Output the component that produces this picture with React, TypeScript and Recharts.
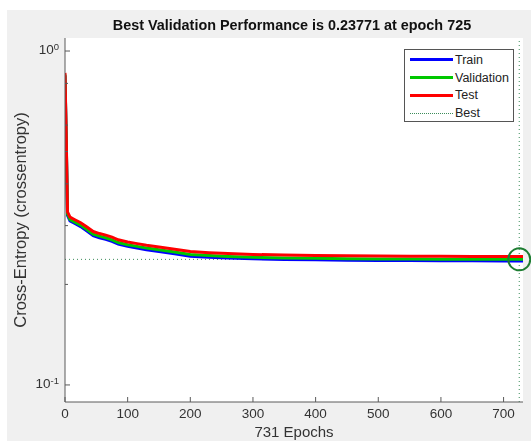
// Training performance plot (cross-entropy per epoch) in MATLAB plotperform style.
import { CartesianGrid, Legend, Line, LineChart, ReferenceDot, ReferenceLine, XAxis, YAxis } from "recharts";

const epochs = [0, 2, 4, 8, 15, 25, 35, 45, 55, 65, 75, 85, 100, 115, 130, 150, 175, 200, 230, 260, 300, 350, 400, 450, 500, 550, 600, 650, 700, 725, 731];
const trainPerf = [0.845, 0.535, 0.322, 0.31, 0.305, 0.298, 0.289, 0.28, 0.276, 0.273, 0.269, 0.264, 0.26, 0.257, 0.254, 0.251, 0.247, 0.243, 0.2412, 0.2398, 0.2386, 0.2376, 0.2369, 0.2364, 0.236, 0.2357, 0.2355, 0.2353, 0.2352, 0.2351, 0.2351];
const validationPerf = [0.85, 0.54, 0.325, 0.313, 0.308, 0.301, 0.292, 0.283, 0.279, 0.276, 0.272, 0.267, 0.263, 0.26, 0.257, 0.254, 0.25, 0.246, 0.244, 0.2425, 0.2412, 0.2401, 0.2394, 0.2389, 0.2385, 0.2382, 0.238, 0.2379, 0.2378, 0.23771, 0.2378];
const testPerf = [0.86, 0.55, 0.33, 0.318, 0.313, 0.306, 0.297, 0.288, 0.284, 0.281, 0.277, 0.272, 0.268, 0.265, 0.262, 0.259, 0.255, 0.251, 0.249, 0.2475, 0.246, 0.2448, 0.2442, 0.2437, 0.2433, 0.243, 0.2428, 0.2426, 0.2424, 0.2423, 0.2423];

const xTicks = [0, 100, 200, 300, 400, 500, 600, 700];
const yTicks = [0.1, 0.2, 0.3, 0.4, 0.5, 0.6, 0.7, 0.8, 0.9, 1];
const yTickLabels: Record<string, string> = { "0.1": "-1", "1": "0" };

const bestEpoch = 725;
const bestPerf = 0.23771;
const totalEpochs = 731;

const seriesMeta = [
  { key: "train", label: "Train", color: "#0000ff" },
  { key: "validation", label: "Validation", color: "#00c800" },
  { key: "test", label: "Test", color: "#ff0000" },
];

const data = epochs.map((epoch, i) => ({
  epoch,
  train: trainPerf[i],
  validation: validationPerf[i],
  test: testPerf[i],
}));

const FONT = "'Liberation Sans', Arial, sans-serif";
const AXIS = "#5a5a5a";
const BEST = "#3c8c5a";

function YTick({ x, y, payload }: any) {
  const axisX = x + 6;
  const exp = yTickLabels[String(payload.value)];
  const major = exp !== undefined;
  return (
    <g>
      <line x1={axisX} x2={axisX + (major ? 5 : 3)} y1={y} y2={y} stroke={AXIS} />
      {major && (
        <text x={x} y={y} dy="0.25em" textAnchor="end" fill="#333" fontSize={13.5} fontFamily={FONT}>
          10
          <tspan dy="-0.5em" fontSize={9.5}>
            {exp}
          </tspan>
        </text>
      )}
    </g>
  );
}

function XTick({ x, y, payload }: any) {
  return (
    <g>
      <line x1={x} x2={x} y1={y} y2={y - 5} stroke={AXIS} />
      <text x={x} y={y + 6} dy="0.71em" textAnchor="middle" fill="#333" fontSize={13.5} fontFamily={FONT}>
        {payload.value}
      </text>
    </g>
  );
}

function PerfLegend() {
  const rows = [...seriesMeta.map((s) => ({ label: s.label, color: s.color, dotted: false })), { label: "Best", color: BEST, dotted: true }];
  return (
    <div style={{ width: 110, height: 73, background: "#fff", border: "1px solid #555", fontFamily: FONT, fontSize: 12.5, color: "#222", paddingTop: 1, boxSizing: "border-box" }}>
      {rows.map((r) => (
        <div key={r.label} style={{ display: "flex", alignItems: "center", height: 17.8 }}>
          <div
            style={{
              marginLeft: 5,
              width: 43,
              height: 0,
              borderTop: r.dotted ? `1px dotted ${r.color}` : `3.5px solid ${r.color}`,
            }}
          />
          <span style={{ marginLeft: 2 }}>{r.label}</span>
        </div>
      ))}
    </div>
  );
}

export default function App() {
  return (
    <div style={{ position: "fixed", left: 7, top: 10, width: 524, height: 445, background: "#f0f0f0" }}>
      <div
        style={{
          position: "absolute",
          top: 7,
          left: 0,
          width: 570,
          textAlign: "center",
          fontFamily: FONT,
          fontWeight: "bold",
          fontSize: 14.4,
          color: "#111",
        }}
      >
        Best Validation Performance is 0.23771 at epoch 725
      </div>
      <LineChart width={524} height={445} data={data} margin={{ top: 28, right: 8, bottom: 13, left: 8 }}>
        <CartesianGrid fill="#ffffff" horizontal={false} vertical={false} />
        <XAxis
          dataKey="epoch"
          type="number"
          domain={[0, totalEpochs]}
          ticks={xTicks}
          allowDataOverflow
          height={40}
          tickSize={0}
          tickMargin={0}
          tick={<XTick />}
          axisLine={{ stroke: AXIS }}
          label={{
            content: ({ viewBox }: any) => (
              <text
                x={viewBox.x + viewBox.width / 2}
                y={viewBox.y + 35}
                textAnchor="middle"
                fill="#333"
                fontSize={15}
                fontFamily={FONT}
              >
                {`${totalEpochs} Epochs`}
              </text>
            ),
          }}
        />
        <YAxis
          type="number"
          scale="log"
          domain={[0.0889, 1.094]}
          allowDataOverflow
          ticks={yTicks}
          width={50}
          tickSize={0}
          tickMargin={6}
          tick={<YTick />}
          axisLine={{ stroke: AXIS }}
          label={{
            content: ({ viewBox }: any) => {
              const cx = 13;
              const cy = viewBox.y + viewBox.height / 2;
              return (
                <text
                  x={cx}
                  y={cy}
                  transform={`rotate(-90 ${cx} ${cy})`}
                  textAnchor="middle"
                  dominantBaseline="central"
                  fill="#333"
                  fontSize={16.5}
                  fontFamily={FONT}
                >
                  Cross-Entropy  (crossentropy)
                </text>
              );
            },
          }}
        />
        <ReferenceLine y={bestPerf} stroke={BEST} strokeDasharray="1 3" />
        <ReferenceLine x={bestEpoch} stroke={BEST} strokeDasharray="1 3" />
        {seriesMeta.map((s) => (
          <Line
            key={s.key}
            dataKey={s.key}
            stroke={s.color}
            strokeWidth={3}
            dot={false}
            type="linear"
            isAnimationActive={false}
          />
        ))}
        <ReferenceDot x={bestEpoch} y={bestPerf} r={11} fill="none" stroke="#1e7d32" strokeWidth={2} />
        <Legend
          layout="vertical"
          align="center"
          verticalAlign="middle"
          content={<PerfLegend />}
          wrapperStyle={{ top: 39, left: 397, width: 110 }}
        />
      </LineChart>
    </div>
  );
}
